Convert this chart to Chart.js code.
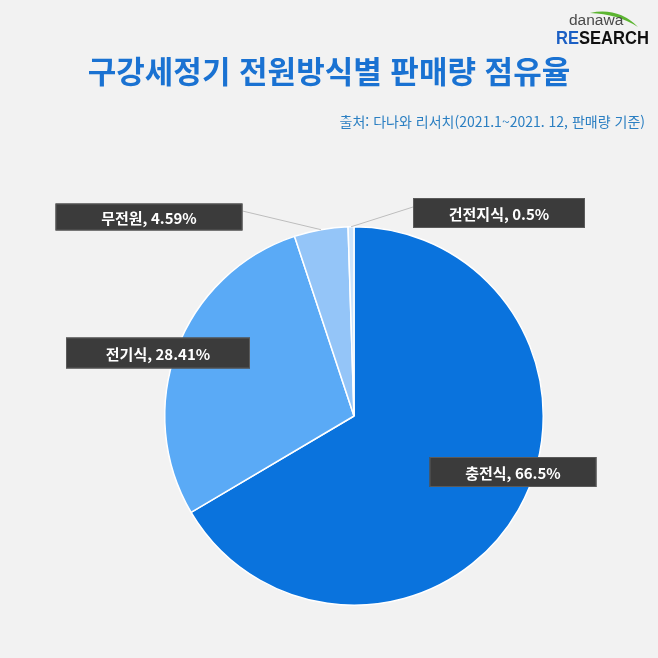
<!DOCTYPE html>
<html lang="ko">
<head>
<meta charset="utf-8">
<script src="https://cdn.jsdelivr.net/npm/chart.js@4.4.1/dist/chart.umd.min.js"></script>
<style>
  html,body{margin:0;padding:0;background:#f2f2f2;}
  #wrap{position:relative;width:658px;height:658px;background:#f2f2f2;overflow:hidden;font-family:"Noto Sans CJK KR","Noto Sans",sans-serif;}
  #c{position:absolute;left:0;top:0;}
  #title{position:absolute;left:0;width:658px;top:50px;text-align:center;font-size:31px;font-weight:700;color:#1a72d2;line-height:40px;}
  #sub{position:absolute;right:13px;top:110px;font-size:14px;color:#2b7fc2;line-height:22px;}
  #logo1{position:absolute;left:569px;top:10px;font-family:"Liberation Sans","DejaVu Sans",sans-serif;font-size:15.5px;color:#4a4a4a;line-height:20px;}
  #logo2{position:absolute;left:556px;top:28px;font-family:"Liberation Sans","DejaVu Sans",sans-serif;font-size:18px;font-weight:700;line-height:20px;color:#111;transform:scaleX(0.92);transform-origin:left top;white-space:nowrap;}
  #logo2 span{color:#1b5fc4;}
  #swoosh{position:absolute;left:588px;top:8px;}
</style>
</head>
<body>
<div id="wrap">
  <canvas id="c" width="658" height="658"></canvas>
  <svg id="swoosh" width="56" height="24"><path d="M2 5 Q30 -1 50 19 Q30 6 2 5 Z" fill="#5cb531"/></svg>
  <div id="logo1">danawa</div>
  <div id="logo2"><span>RE</span>SEARCH</div>
  <div id="title">구강세정기 전원방식별 판매량 점유율</div>
  <div id="sub">출처: 다나와 리서치(2021.1~2021. 12, 판매량 기준)</div>
</div>
<script>
const categories = ["충전식", "전기식", "무전원", "건전지식"];
const shares = [66.5, 28.41, 4.59, 0.5];
const valueLabels = ["66.5%", "28.41%", "4.59%", "0.5%"];

const sliceColors = ["#0a73dd", "#5aaaf6", "#94c5f8", "#cde4fb"];
// label box placement relative to pie centre (style only)
const boxOffsets = [[159, 56], [-196, -63], [-205, -199], [145, -203]];
const boxWidths = [167, 184, 187, 172];
const boxHeights = [30, 31, 27, 30];
const leader = [false, false, true, true];

const labelPlugin = {
  id: 'boxLabels',
  afterDatasetsDraw(chart) {
    const ctx = chart.ctx;
    const meta = chart.getDatasetMeta(0);
    meta.data.forEach((arc, i) => {
      const p = arc.getProps(['x','y','startAngle','endAngle','outerRadius'], true);
      const cx = p.x, cy = p.y;
      const bx = cx + boxOffsets[i][0], by = cy + boxOffsets[i][1];
      const w = boxWidths[i], h = boxHeights[i];
      if (leader[i]) {
        const mid = (p.startAngle + p.endAngle) / 2;
        const ex = cx + Math.cos(mid) * p.outerRadius;
        const ey = cy + Math.sin(mid) * p.outerRadius;
        const sx = bx < cx ? bx + w/2 : bx - w/2;
        ctx.save();
        ctx.strokeStyle = '#bdbdbd';
        ctx.lineWidth = 1;
        ctx.beginPath();
        ctx.moveTo(sx, by - 6);
        ctx.lineTo(ex, ey);
        ctx.stroke();
        ctx.restore();
      }
      ctx.save();
      ctx.fillStyle = '#3b3b3b';
      ctx.fillRect(bx - w/2, by - h/2, w, h);
      ctx.strokeStyle = '#5a5a5a';
      ctx.lineWidth = 1;
      ctx.strokeRect(bx - w/2 + 0.5, by - h/2 + 0.5, w - 1, h - 1);
      ctx.fillStyle = '#ffffff';
      ctx.font = '700 15px "Noto Sans CJK KR", "Noto Sans", sans-serif';
      ctx.textAlign = 'center';
      ctx.textBaseline = 'middle';
      ctx.fillText(categories[i] + ', ' + valueLabels[i], bx, by + 1);
      ctx.restore();
    });
  }
};

new Chart(document.getElementById('c'), {
  type: 'pie',
  data: {
    labels: categories,
    datasets: [{
      data: shares,
      backgroundColor: sliceColors,
      borderColor: '#ffffff',
      borderWidth: 1.5
    }]
  },
  options: {
    responsive: false,
    animation: false,
    layout: { padding: { left: 164, right: 114, top: 226, bottom: 52 } },
    plugins: {
      legend: { display: false },
      tooltip: { enabled: false },
      title: { display: false }
    }
  },
  plugins: [labelPlugin]
});
</script>
</body>
</html>
